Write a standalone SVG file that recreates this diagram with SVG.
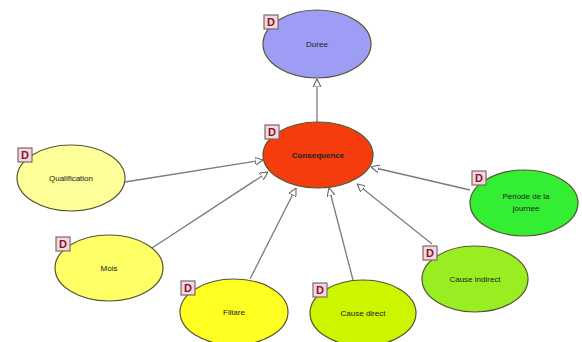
<svg xmlns="http://www.w3.org/2000/svg" width="582" height="342" viewBox="0 0 582 342">
<defs>
<style>
.n{stroke:#555533;stroke-width:1.2}
.t{font-family:"Liberation Sans",Arial,sans-serif;font-size:8px;fill:#222;text-anchor:middle}
.b rect{fill:#f4d8dc;stroke:#7a6a70;stroke-width:1.2}
.b text{font-family:"Liberation Sans",Arial,sans-serif;font-size:11px;font-weight:bold;fill:#8a1030;text-anchor:middle}
.c line{stroke:#7a7a7a;stroke-width:1.3;marker-end:url(#tri)}
</style>
<marker id="tri" viewBox="0 0 10 10" refX="10" refY="5" markerWidth="8" markerHeight="8" markerUnits="userSpaceOnUse" orient="auto">
<path d="M0,0 L10,5 L0,10 Z" fill="#fff" stroke="#666" stroke-width="1.4"/>
</marker>
</defs>
<rect width="582" height="342" fill="#fff"/>
<g id="connectors" class="c">
<line x1="317" y1="122" x2="317" y2="79"/>
<line x1="125" y1="182" x2="263" y2="160"/>
<line x1="152" y1="248" x2="268" y2="172"/>
<line x1="250" y1="279" x2="296" y2="188"/>
<line x1="353" y1="280" x2="329" y2="188"/>
<line x1="432" y1="244" x2="357" y2="184"/>
<line x1="470" y1="190" x2="371" y2="167"/>
</g>
<g id="duree">
<ellipse class="n" cx="317" cy="44" rx="54" ry="34" fill="#9d9df5"/>
<text class="t" x="317" y="47">Duree</text>
<g class="b"><rect x="264" y="15" width="14" height="14"/><text x="271" y="26">D</text></g>
</g>
<g id="consequence">
<ellipse class="n" cx="318" cy="155" rx="55" ry="33" fill="#f53c0c"/>
<text class="t" x="318" y="158" font-weight="bold" font-size="9" fill="#3a0a00">Consequence</text>
<g class="b"><rect x="265" y="125" width="14" height="14"/><text x="272" y="136">D</text></g>
</g>
<g id="qualification">
<ellipse class="n" cx="71" cy="178" rx="54" ry="33" fill="#ffff99"/>
<text class="t" x="71" y="181">Qualification</text>
<g class="b"><rect x="18" y="148" width="14" height="14"/><text x="25" y="159">D</text></g>
</g>
<g id="mois">
<ellipse class="n" cx="109" cy="268" rx="54" ry="33" fill="#ffff66"/>
<text class="t" x="109" y="271">Mois</text>
<g class="b"><rect x="56" y="237" width="14" height="14"/><text x="63" y="248">D</text></g>
</g>
<g id="filiare">
<ellipse class="n" cx="234" cy="312" rx="54" ry="33" fill="#ffff22"/>
<text class="t" x="234" y="315">Filiare</text>
<g class="b"><rect x="181" y="281" width="14" height="14"/><text x="188" y="292">D</text></g>
</g>
<g id="cause-direct">
<ellipse class="n" cx="363" cy="313" rx="53" ry="33" fill="#ccf500"/>
<text class="t" x="363" y="316">Cause direct</text>
<g class="b"><rect x="313" y="283" width="14" height="14"/><text x="320" y="294">D</text></g>
</g>
<g id="cause-indirect">
<ellipse class="n" cx="475" cy="279" rx="53" ry="33" fill="#99ee22"/>
<text class="t" x="475" y="282">Cause indirect</text>
<g class="b"><rect x="423" y="246" width="14" height="14"/><text x="430" y="257">D</text></g>
</g>
<g id="periode">
<ellipse class="n" cx="524" cy="203" rx="54" ry="33" fill="#33ee33"/>
<text class="t" x="526" y="199">Periode de la</text>
<text class="t" x="526" y="211">journee</text>
<g class="b"><rect x="472" y="171" width="14" height="14"/><text x="479" y="182">D</text></g>
</g>
</svg>
